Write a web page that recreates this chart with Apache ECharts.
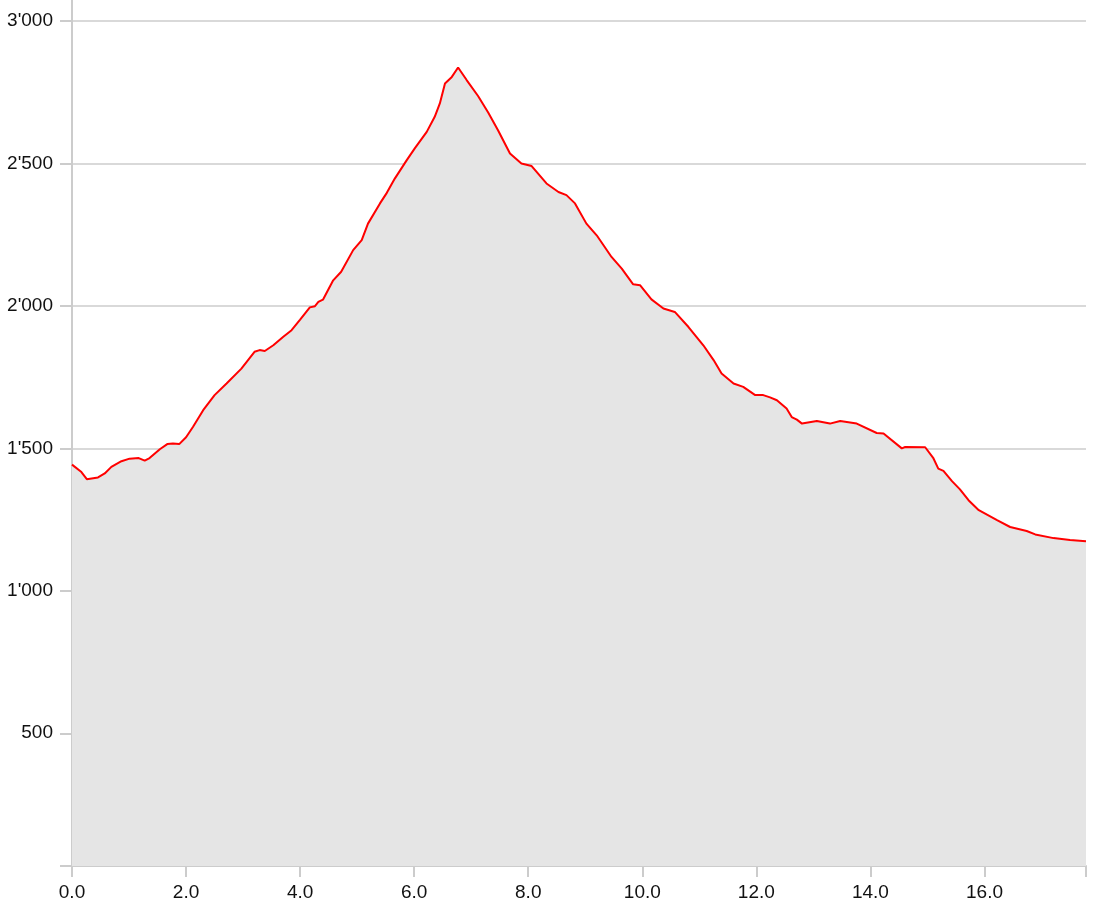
<!DOCTYPE html>
<html>
<head>
<meta charset="utf-8">
<script src="https://cdn.jsdelivr.net/npm/echarts@6/dist/echarts.min.js"></script>
<style>html,body{margin:0;padding:0;background:#fff}#chart{width:1093px;height:903px}</style>
</head>
<body>
<div id="chart"></div>
<script>
var distances = [0,0.165,0.26,0.456,0.574,0.69,0.867,1.01,1.17,1.275,1.36,1.54,1.67,1.77,1.88,2.0,2.12,2.3,2.5,2.71,2.97,3.2,3.29,3.38,3.53,3.7,3.85,4.0,4.17,4.26,4.32,4.4,4.58,4.72,4.93,5.08,5.19,5.4,5.52,5.66,5.87,6.01,6.22,6.36,6.45,6.54,6.66,6.77,6.92,7.12,7.3,7.47,7.68,7.88,8.06,8.32,8.53,8.67,8.82,9.02,9.2,9.32,9.46,9.64,9.84,9.96,10.16,10.37,10.57,10.81,11.07,11.25,11.39,11.6,11.77,11.98,12.12,12.24,12.36,12.53,12.62,12.71,12.8,13.06,13.29,13.47,13.76,14.11,14.23,14.55,14.61,14.96,15.1,15.19,15.28,15.43,15.57,15.72,15.9,16.22,16.45,16.74,16.89,17.21,17.5,17.78];
var elevations = [1443,1417,1392,1398,1412,1435,1455,1464,1466,1457,1466,1497,1515,1517,1515,1539,1575,1634,1687,1728,1780,1839,1845,1842,1862,1891,1915,1952,1995,1999,2014,2022,2090,2120,2196,2231,2289,2360,2397,2447,2512,2553,2611,2664,2711,2781,2804,2837,2793,2737,2678,2617,2535,2500,2491,2430,2400,2389,2360,2289,2248,2213,2172,2131,2076,2073,2023,1991,1979,1926,1862,1810,1763,1728,1716,1687,1687,1679,1669,1640,1610,1601,1587,1596,1587,1596,1587,1554,1552,1500,1505,1504,1467,1429,1421,1385,1356,1318,1283,1248,1224,1210,1198,1185,1178,1174];
var yTickValues = [500,1000,1500,2000,2500,3000];
var yMin = 34, yMax = 3074;
var xMin = 0, xMax = 17.78, xStep = 2;

var points = distances.map(function (d, i) { return [d, elevations[i]]; });
var axisColor = '#cccccc';
var fontFam = '"Liberation Sans", Arial, sans-serif';

var chart = echarts.init(document.getElementById('chart'), null, {renderer: 'canvas'});
chart.setOption({
  animation: false,
  backgroundColor: '#ffffff',
  grid: {left: 72, right: 7, top: 0, bottom: 37, containLabel: false},
  xAxis: {
    type: 'value', min: xMin, max: xMax, interval: xStep,
    axisLine: {show: true, lineStyle: {color: axisColor, width: 2}},
    axisTick: {show: true, length: 11, lineStyle: {color: axisColor, width: 2}},
    splitLine: {show: false},
    axisLabel: {
      margin: 17, fontSize: 19, color: '#111', fontFamily: fontFam,
      formatter: function (v) { return (Math.abs(v / xStep - Math.round(v / xStep)) < 1e-6) ? v.toFixed(1) : ''; }
    }
  },
  yAxis: {
    type: 'value', min: yMin, max: yMax,
    axisLine: {show: true, lineStyle: {color: axisColor, width: 2}},
    axisTick: {show: true, length: 12, customValues: [yMin].concat(yTickValues), lineStyle: {color: axisColor, width: 2}},
    splitLine: {show: true, showMinLine: false, showMaxLine: true, lineStyle: {color: '#d9d9d9', width: 2}},
    axisLabel: {
      customValues: yTickValues,
      margin: 19, fontSize: 19, color: '#111', fontFamily: fontFam,
      formatter: function (v) { return String(Math.round(v)).replace(/\B(?=(\d{3})+(?!\d))/g, "'"); }
    }
  },
  series: [{
    type: 'line',
    data: points,
    showSymbol: false,
    smooth: false,
    lineStyle: {color: '#ff0000', width: 2},
    areaStyle: {color: '#e5e5e5', opacity: 1, origin: 'start'},
    z: 3
  }]
});
</script>
</body>
</html>
